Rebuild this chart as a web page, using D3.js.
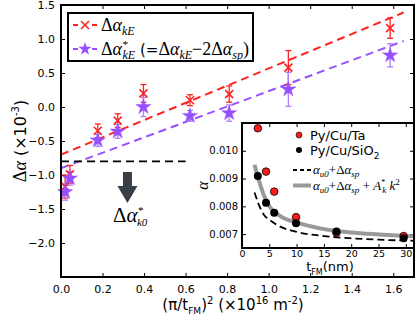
<!DOCTYPE html>
<html><head><meta charset="utf-8">
<script src="https://cdn.jsdelivr.net/npm/d3@7"></script>
<style>html,body{margin:0;padding:0;background:#fff;}svg{display:block;}</style>
</head><body>
<svg id="c" width="416" height="328"></svg>
<script>
// ---- main panel data ----
const qVals      = [0.02, 0.043, 0.177, 0.273, 0.397, 0.621, 0.81, 1.095, 1.585];
const dAkE       = [-1.17, -0.99, -0.35, -0.20, 0.20, 0.10, 0.19, 0.58, 1.16];
const dAkEErr    = [0.17, 0.13, 0.10, 0.10, 0.13, 0.08, 0.12, 0.25, 0.15];
const dAkEStar   = [-1.25, -1.05, -0.49, -0.36, 0.0, -0.13, -0.09, 0.26, 0.76];
const dAkEStarErr= [0.12, 0.10, 0.09, 0.10, 0.14, 0.08, 0.12, 0.25, 0.17];
const fitX       = [0, 1.65];
const fitRed     = [-0.70, 1.39];
const fitPurple  = [-0.90, 0.97];
const refLineX   = [0, 0.6];
const refLineY   = -0.80;
const xTicks     = [0.0, 0.2, 0.4, 0.6, 0.8, 1.0, 1.2, 1.4, 1.6];
const yTicks     = [-2.0, -1.5, -1.0, -0.5, 0.0, 0.5, 1.0, 1.5];
// ---- inset data ----
const tVals      = [2.9, 4.4, 5.9, 9.9, 17.3, 29.6];
const alphaTa    = [0.01081, 0.00925, 0.00853, 0.00761, 0.00705, 0.00693];
const alphaSiO2  = [0.00909, 0.00813, 0.00777, 0.00739, 0.00709, 0.00685];
const curveT     = [2.3, 3, 4, 5, 7, 10, 15, 20, 25, 31.5];
const curveDash  = [0.0085, 0.0081, 0.0077, 0.00752, 0.00727, 0.00708, 0.00693, 0.00685, 0.0068, 0.00676];
const curveGray  = [0.0095, 0.0090, 0.0084, 0.0080, 0.00765, 0.00742, 0.00718, 0.00706, 0.00699, 0.00692];
const ixTicks    = [0, 5, 10, 15, 20, 25, 30];
const iyTicks    = [0.007, 0.008, 0.009, 0.010];

const RED = '#ff2222', PURPLE = '#9650ff', PURPLE_E = '#b27dff';
const SANS = 'DejaVu Sans', SERIF = 'Liberation Serif';
const svg = d3.select('#c');

function rich(sel, x, y, parts, size, family, anchor) {
  const t = sel.append('text').attr('x', x).attr('y', y)
    .attr('font-size', size).attr('font-family', family).attr('fill', '#000');
  if (anchor) t.attr('text-anchor', anchor);
  let cur = 0;
  parts.forEach(p => {
    const s = p.shift || 0;
    const ts = t.append('tspan').text(p.t).attr('dy', cur - s);
    cur = s;
    if (p.size) ts.attr('font-size', p.size);
    if (p.family) ts.attr('font-family', p.family);
    if (p.italic) ts.attr('font-style', 'italic');
    if (p.dx) ts.attr('dx', p.dx);
  });
  return t;
}
const fmtMinus = v => d3.format('.1f')(v).replace('-', '\u2212');

// ---- main axes ----
const x = d3.scaleLinear().domain([0, 1.7]).range([61, 414]);
const y = d3.scaleLinear().domain([-2.5, 1.5]).range([277, 5]);
const main = svg.append('g');

const gx = main.append('g').attr('transform', `translate(0,${y(-2.5)})`)
  .call(d3.axisBottom(x).tickValues(xTicks).tickSize(-4).tickPadding(8).tickFormat(d3.format('.1f')));
const gxt = main.append('g').attr('transform', `translate(0,${y(1.5)})`)
  .call(d3.axisTop(x).tickValues(xTicks).tickSize(-4).tickFormat(''));
const gy = main.append('g').attr('transform', `translate(${x(0)},0)`)
  .call(d3.axisLeft(y).tickValues(yTicks).tickSize(-4).tickPadding(6).tickFormat(fmtMinus));
const gyr = main.append('g').attr('transform', `translate(${x(1.7)},0)`)
  .call(d3.axisRight(y).tickValues(yTicks).tickSize(-4).tickFormat(''));
[gx, gxt, gy, gyr].forEach(g => {
  g.select('.domain').remove();
  g.selectAll('.tick line').attr('stroke', '#000').attr('stroke-width', 1);
  g.selectAll('text').attr('font-family', SANS).attr('font-size', 11).attr('fill', '#000');
});

// fit lines
main.append('line').attr('x1', x(fitX[0])).attr('x2', x(fitX[1])).attr('y1', y(fitRed[0])).attr('y2', y(fitRed[1]))
  .attr('stroke', RED).attr('stroke-width', 2).attr('stroke-dasharray', '8,5');
main.append('line').attr('x1', x(fitX[0])).attr('x2', x(fitX[1])).attr('y1', y(fitPurple[0])).attr('y2', y(fitPurple[1]))
  .attr('stroke', PURPLE).attr('stroke-width', 2).attr('stroke-dasharray', '8,5');
main.append('line').attr('x1', x(refLineX[0])).attr('x2', x(refLineX[1])).attr('y1', y(refLineY)).attr('y2', y(refLineY))
  .attr('stroke', '#000').attr('stroke-width', 1.8).attr('stroke-dasharray', '8,5');

// error bars
function errbars(vals, errs, color) {
  const g = main.append('g').attr('stroke', color).attr('stroke-width', 1.3);
  qVals.forEach((q, i) => {
    const cx = x(q), y0 = y(vals[i] - errs[i]), y1 = y(vals[i] + errs[i]);
    g.append('line').attr('x1', cx).attr('x2', cx).attr('y1', y0).attr('y2', y1);
    g.append('line').attr('x1', cx - 3).attr('x2', cx + 3).attr('y1', y0).attr('y2', y0);
    g.append('line').attr('x1', cx - 3).attr('x2', cx + 3).attr('y1', y1).attr('y2', y1);
  });
}
errbars(dAkE, dAkEErr, RED);
errbars(dAkEStar, dAkEStarErr, PURPLE_E);

const star = d3.symbol().type(d3.symbolStar).size(70);
const starSmall = d3.symbol().type(d3.symbolStar).size(55);
function drawX(g, cx, cy, r) {
  g.append('path').attr('d', `M${cx - r},${cy - r}L${cx + r},${cy + r}M${cx - r},${cy + r}L${cx + r},${cy - r}`)
    .attr('stroke', RED).attr('stroke-width', 1.6).attr('fill', 'none');
}
qVals.forEach((q, i) => drawX(main, x(q), y(dAkE[i]), 4));
main.append('g').selectAll('path').data(qVals).join('path')
  .attr('d', star).attr('transform', (q, i) => `translate(${x(q)},${y(dAkEStar[i])})`)
  .attr('fill', PURPLE).attr('stroke', PURPLE).attr('stroke-width', 0.5);

// arrow annotation
const ax = x(0.32), aTop = y(-0.955), aTip = y(-1.41), hw = 4.5, hhw = 10, hl = 17;
main.append('path').attr('d',
  `M${ax - hw},${aTop}L${ax + hw},${aTop}L${ax + hw},${aTip - hl}L${ax + hhw},${aTip - hl}L${ax},${aTip}L${ax - hhw},${aTip - hl}L${ax - hw},${aTip - hl}Z`)
  .attr('fill', '#3a3f46');
rich(main, x(0.25), y(-1.69), [
  { t: 'Δ' }, { t: 'α', italic: true },
  { t: '*', size: 11, shift: 8, italic: true },
  { t: 'k0', size: 11, shift: -4, italic: true, dx: -6 }
], 21, SERIF);

// frame
main.append('rect').attr('x', x(0)).attr('y', y(1.5)).attr('width', x(1.7) - x(0)).attr('height', y(-2.5) - y(1.5))
  .attr('fill', 'none').attr('stroke', '#000').attr('stroke-width', 2);

// legend
const lg = main.append('g');
lg.append('rect').attr('x', 68).attr('y', 13).attr('width', 185).attr('height', 48)
  .attr('fill', '#fff').attr('stroke', '#000').attr('stroke-width', 2);
lg.append('line').attr('x1', 73).attr('x2', 97).attr('y1', 25).attr('y2', 25)
  .attr('stroke', RED).attr('stroke-width', 2).attr('stroke-dasharray', '5,14,5');
drawX(lg, 85, 25, 4);
lg.append('line').attr('x1', 73).attr('x2', 97).attr('y1', 49).attr('y2', 49)
  .attr('stroke', PURPLE).attr('stroke-width', 2).attr('stroke-dasharray', '5,14,5');
lg.append('path').attr('d', starSmall).attr('transform', 'translate(85,49)').attr('fill', PURPLE);
rich(lg, 101, 31, [
  { t: 'Δ' }, { t: 'α', italic: true }, { t: 'kE', italic: true, size: 12, shift: -4 }
], 18, SERIF);
rich(lg, 101, 55, [
  { t: 'Δ' }, { t: 'α', italic: true },
  { t: '*', size: 11, shift: 7, italic: true },
  { t: 'kE', italic: true, size: 12, shift: -4, dx: -5 },
  { t: ' (=', family: SANS, size: 15, shift: 0 },
  { t: 'Δ' }, { t: 'α', italic: true }, { t: 'kE', italic: true, size: 12, shift: -4 },
  { t: '−2Δ', shift: 0 }, { t: 'α', italic: true }, { t: 'sp', italic: true, size: 12, shift: -4 },
  { t: ')', shift: 0 }
], 18, SERIF);

// axis labels
rich(svg, 233, 310, [
  { t: '(π/t' }, { t: 'FM', size: 9, shift: -4 }, { t: ')', shift: 0 }, { t: '2', size: 10, shift: 6 },
  { t: ' (×10', shift: 0 }, { t: '16', size: 10, shift: 6 }, { t: ' m', shift: 0 }, { t: '-2', size: 10, shift: 6 },
  { t: ')', shift: 0 }
], 15, SANS, 'middle');
const yl = rich(svg, 0, 0, [
  { t: 'Δ', family: SERIF, size: 18 }, { t: 'α', family: SERIF, italic: true, size: 18 },
  { t: ' (×10' }, { t: '-3', size: 10, shift: 7 }, { t: ')', shift: 0 }
], 16, SANS, 'middle');
yl.attr('transform', 'translate(26,141) rotate(-90)');

// ---- inset ----
const xi = d3.scaleLinear().domain([0, 31.5]).range([242, 414]);
const yi = d3.scaleLinear().domain([0.0065, 0.011]).range([248, 123]);
const ins = svg.append('g');
ins.append('rect').attr('x', xi(0)).attr('y', yi(0.011)).attr('width', xi(31.5) - xi(0)).attr('height', yi(0.0065) - yi(0.011))
  .attr('fill', '#fff');
const ig = [
  ins.append('g').attr('transform', `translate(0,${yi(0.0065)})`).call(d3.axisBottom(xi).tickValues(ixTicks).tickSize(-4).tickPadding(2).tickFormat(d3.format('d'))),
  ins.append('g').attr('transform', `translate(0,${yi(0.011)})`).call(d3.axisTop(xi).tickValues(ixTicks).tickSize(-4).tickFormat('')),
  ins.append('g').attr('transform', `translate(${xi(0)},0)`).call(d3.axisLeft(yi).tickValues(iyTicks).tickSize(-4).tickPadding(4).tickFormat(d3.format('.3f'))),
  ins.append('g').attr('transform', `translate(${xi(31.5)},0)`).call(d3.axisRight(yi).tickValues(iyTicks).tickSize(-4).tickFormat(''))
];
ig.forEach(g => {
  g.select('.domain').remove();
  g.selectAll('.tick line').attr('stroke', '#000');
  g.selectAll('text').attr('font-family', SANS).attr('font-size', 10).attr('fill', '#000');
});
ig[0].selectAll('text').attr('font-size', 9.5);
const line = d3.line().x((d, i) => xi(curveT[i])).y(d => yi(d)).curve(d3.curveMonotoneX);
ins.append('path').attr('d', line(curveGray)).attr('fill', 'none').attr('stroke', '#999').attr('stroke-width', 4);
ins.append('path').attr('d', line(curveDash)).attr('fill', 'none').attr('stroke', '#000').attr('stroke-width', 1.8).attr('stroke-dasharray', '7,4');
ins.append('g').selectAll('circle').data(alphaTa).join('circle')
  .attr('cx', (d, i) => xi(tVals[i])).attr('cy', d => yi(d)).attr('r', 3.8)
  .attr('fill', '#ff1a1a').attr('stroke', '#000').attr('stroke-width', 0.8);
ins.append('g').selectAll('circle').data(alphaSiO2).join('circle')
  .attr('cx', (d, i) => xi(tVals[i])).attr('cy', d => yi(d)).attr('r', 4)
  .attr('fill', '#000');
ins.append('rect').attr('x', xi(0)).attr('y', yi(0.011)).attr('width', xi(31.5) - xi(0)).attr('height', yi(0.0065) - yi(0.011))
  .attr('fill', 'none').attr('stroke', '#000').attr('stroke-width', 2);
// inset legend
ins.append('circle').attr('cx', 299).attr('cy', 135).attr('r', 3).attr('fill', '#ff1a1a').attr('stroke', '#000').attr('stroke-width', 0.6);
ins.append('circle').attr('cx', 299).attr('cy', 150).attr('r', 3).attr('fill', '#000');
rich(ins, 310, 139.5, [{ t: 'Py/Cu/Ta' }], 13, SANS);
rich(ins, 310, 154.5, [{ t: 'Py/Cu/SiO' }, { t: '2', size: 9, shift: -4 }], 13, SANS);
ins.append('line').attr('x1', 293).attr('x2', 311).attr('y1', 170).attr('y2', 170)
  .attr('stroke', '#000').attr('stroke-width', 1.8).attr('stroke-dasharray', '4,3');
ins.append('line').attr('x1', 293).attr('x2', 311).attr('y1', 185.5).attr('y2', 185.5)
  .attr('stroke', '#999').attr('stroke-width', 4);
rich(ins, 313, 174, [
  { t: 'α', italic: true }, { t: 'u0', italic: true, size: 9, shift: -3 },
  { t: '+Δ', shift: 0 }, { t: 'α', italic: true }, { t: 'sp', italic: true, size: 9, shift: -3 }
], 13, SERIF);
rich(ins, 313, 189.5, [
  { t: 'α', italic: true }, { t: 'u0', italic: true, size: 9, shift: -3 },
  { t: '+Δ', shift: 0 }, { t: 'α', italic: true }, { t: 'sp', italic: true, size: 9, shift: -3 },
  { t: ' + ', shift: 0 }, { t: 'A', italic: true }, { t: '*', size: 8, shift: 5 },
  { t: 'k', italic: true, size: 9, shift: -3, dx: -3 }, { t: ' k', italic: true, shift: 0 }, { t: '2', size: 9, shift: 5 }
], 13, SERIF);
rich(ins, 330, 271, [{ t: 't' }, { t: 'FM', size: 8, shift: -4 }, { t: '(nm)', shift: 0 }], 13, SANS, 'middle');
const ia = rich(ins, 0, 0, [{ t: 'α', italic: true }], 16, SERIF, 'middle');
ia.attr('transform', `translate(208,${(yi(0.011) + yi(0.0065)) / 2}) rotate(-90)`);
</script>
</body></html>
